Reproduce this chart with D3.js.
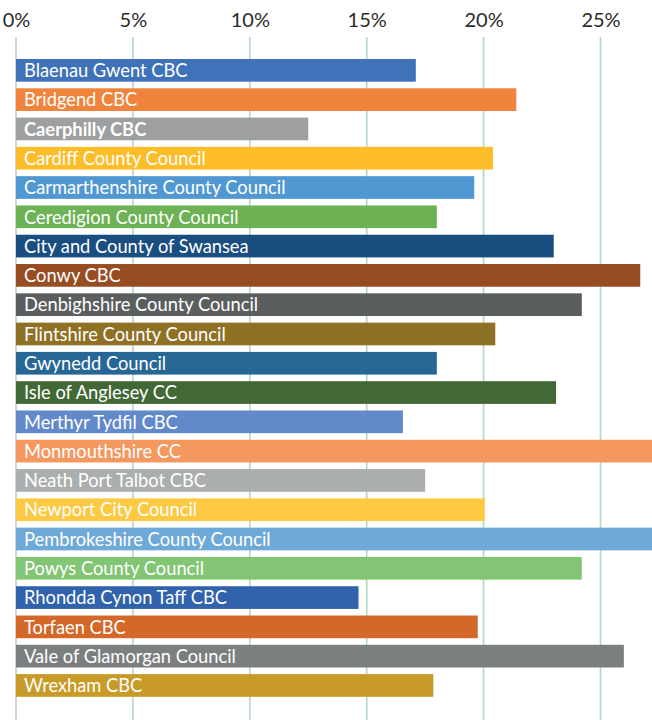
<!DOCTYPE html>
<html>
<head>
<meta charset="utf-8">
<script src="https://cdn.jsdelivr.net/npm/d3@7"></script>
<style>
  body { margin: 0; background: #fff; }
  svg { display: block; }
</style>
</head>
<body>
<div id="chart"></div>
<script>
// councils, top to bottom
let councils = [
  "Blaenau Gwent CBC", "Bridgend CBC", "Caerphilly CBC", "Cardiff County Council",
  "Carmarthenshire County Council", "Ceredigion County Council", "City and County of Swansea",
  "Conwy CBC", "Denbighshire County Council", "Flintshire County Council", "Gwynedd Council",
  "Isle of Anglesey CC", "Merthyr Tydfil CBC", "Monmouthshire CC", "Neath Port Talbot CBC",
  "Newport City Council", "Pembrokeshire County Council", "Powys County Council",
  "Rhondda Cynon Taff CBC", "Torfaen CBC", "Vale of Glamorgan Council", "Wrexham CBC"
]
// percent values
let values = [
  17.1, 21.4, 12.5, 20.4,
  19.6, 18.0, 23.0,
  26.7, 24.2, 20.5, 18.0,
  23.1, 16.55, 29.0, 17.5,
  20.05, 28.6, 24.2,
  14.65, 19.75, 26.0, 17.85
]
let colors = [
  "#3f72b9", "#f1843c", "#9d9fa0", "#fdbd29",
  "#5198d3", "#6db356", "#1a4e81",
  "#984c22", "#5b5e5f", "#8f7125", "#276796",
  "#426935", "#6289c9", "#f5985f", "#abaeae",
  "#fec942", "#6fa9d7", "#82c574",
  "#3063ab", "#d36829", "#7c7f7f", "#c89a28"
]
let tickValues = [0, 5, 10, 15, 20, 25]
let boldLabels = ["Caerphilly CBC"]

let width = 652,
  height = 720

let svg = d3.select("#chart")
  .append("svg")
  .attr("width", width)
  .attr("height", height)

let xScale = d3.scaleLinear()
  .domain([0, 25])
  .range([16, 600.5])

let yScale = d3.scaleBand()
  .domain(councils)
  .range([59, 696.8])
  .paddingInner(0.225)
  .paddingOuter(0)

// vertical gridlines
svg.append("g")
  .attr("class", "grid")
  .selectAll("line")
  .data(tickValues)
  .enter()
  .append("line")
    .attr("x1", d => xScale(d))
    .attr("x2", d => xScale(d))
    .attr("y1", 37)
    .attr("y2", height)
    .style("stroke", "#b3d7c0")
    .style("stroke-width", 1.6)

// top axis labels
let xAxis = d3.axisTop(xScale)
  .tickValues(tickValues)
  .tickFormat(d => d + "%")
  .tickSize(0)
  .tickPadding(0)
let axisG = svg.append("g")
  .attr("class", "xaxis")
  .attr("transform", "translate(0,27)")
  .call(xAxis)
axisG.select(".domain").remove()
axisG.selectAll("text")
  .style("font-family", "Lato, 'Open Sans', sans-serif")
  .style("font-size", "20px")
  .style("fill", "#2b2b2b")

let rows = svg.append("g")
  .attr("class", "bars")
  .selectAll("g")
  .data(councils.map((c, i) => ({ name: c, value: values[i], color: colors[i] })))
  .enter()
  .append("g")

rows.append("rect")
  .attr("x", xScale(0))
  .attr("y", d => yScale(d.name))
  .attr("width", d => xScale(d.value) - xScale(0))
  .attr("height", yScale.bandwidth())
  .style("fill", d => d.color)

rows.append("text")
  .attr("x", xScale(0) + 8)
  .attr("y", d => yScale(d.name) + yScale.bandwidth() / 2)
  .attr("dy", "0.37em")
  .text(d => d.name)
  .style("font-family", "Lato, 'Open Sans', sans-serif")
  .style("font-size", "18.3px")
  .style("font-weight", d => boldLabels.includes(d.name) ? "bold" : "normal")
  .style("fill", "#ffffff")
</script>
</body>
</html>
